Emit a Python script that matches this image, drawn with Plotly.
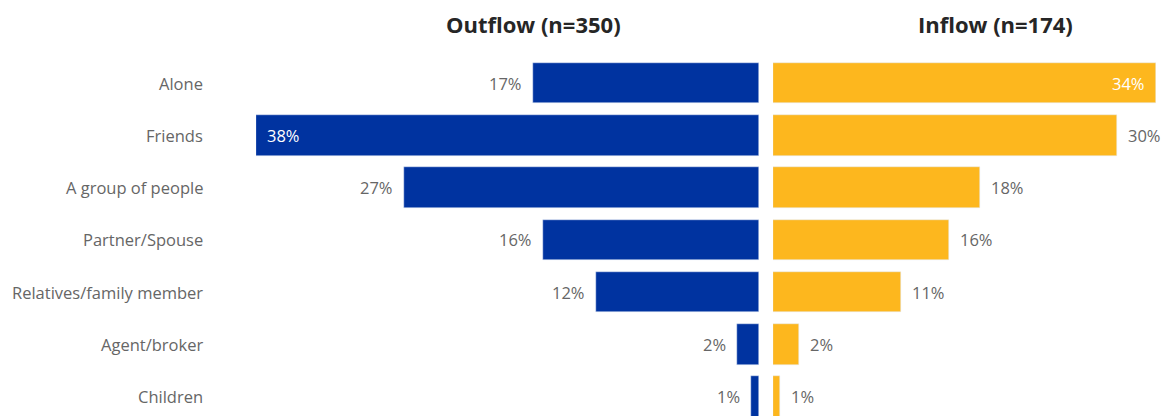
import plotly.graph_objects as go

categories = ["Alone", "Friends", "A group of people", "Partner/Spouse",
              "Relatives/family member", "Agent/broker", "Children"]
outflow = [17.1, 38.0, 26.8, 16.3, 12.3, 1.7, 0.6]
inflow = [34.0, 30.5, 18.4, 15.6, 11.4, 2.3, 0.6]
titles = ["Outflow (n=350)", "Inflow (n=174)"]

BLUE = "#0033A0"
YELLOW = "#FDB71E"
LABEL_GREY = "#666666"
FONT = "Segoe UI, Open Sans, sans-serif"

W, H = 1169, 416
TOP = 57
out_dom = [256 / W, 759 / W]
in_dom = [773 / W, 1156 / W]

fig = go.Figure()
fig.add_trace(go.Bar(y=categories, x=outflow, orientation="h", marker_color=BLUE,
                     width=0.776, xaxis="x", yaxis="y", hoverinfo="skip"))
fig.add_trace(go.Bar(y=categories, x=inflow, orientation="h", marker_color=YELLOW,
                     width=0.776, xaxis="x2", yaxis="y", hoverinfo="skip"))

annotations = []
# value labels: the longest bar in each panel carries its label inside
for cat, v in zip(categories, outflow):
    inside = v == max(outflow)
    annotations.append(dict(x=v, y=cat, xref="x", yref="y", text=f"{v:.0f}%",
                            showarrow=False,
                            xanchor="left" if inside else "right",
                            xshift=9 if inside else -9,
                            font=dict(family=FONT, size=16.5,
                                      color="white" if inside else LABEL_GREY)))
for cat, v in zip(categories, inflow):
    inside = v == max(inflow)
    annotations.append(dict(x=v, y=cat, xref="x2", yref="y", text=f"{v:.0f}%",
                            showarrow=False,
                            xanchor="right" if inside else "left",
                            xshift=-9 if inside else 9,
                            font=dict(family=FONT, size=16.5,
                                      color="white" if inside else LABEL_GREY)))
# category names
for cat in categories:
    annotations.append(dict(x=205 / W, y=cat, xref="paper", yref="y", text=cat,
                            showarrow=False, xanchor="right",
                            font=dict(family=FONT, size=16.5, color=LABEL_GREY)))
# panel titles, placed above the plot area
plot_h = H - TOP
for t, cx in zip(titles, [533, 995]):
    annotations.append(dict(x=cx / W, y=1 + (TOP - 24) / plot_h, xref="paper", yref="paper",
                            text=f"<b>{t}</b>", showarrow=False,
                            xanchor="center", yanchor="middle",
                            font=dict(family=FONT, size=22, color="#262626")))

fig.update_layout(
    width=W, height=H,
    margin=dict(l=0, r=0, t=TOP, b=0),
    paper_bgcolor="white", plot_bgcolor="white",
    showlegend=False, bargap=0,
    annotations=annotations,
    xaxis=dict(domain=out_dom, range=[max(outflow), 0], visible=False, fixedrange=True),
    xaxis2=dict(domain=in_dom, range=[0, max(inflow)], visible=False, fixedrange=True),
    yaxis=dict(type="category", categoryorder="array", categoryarray=categories,
               range=[6.37, -0.5], visible=False, fixedrange=True),
)

fig.write_html("out.html", config={"displayModeBar": False})
